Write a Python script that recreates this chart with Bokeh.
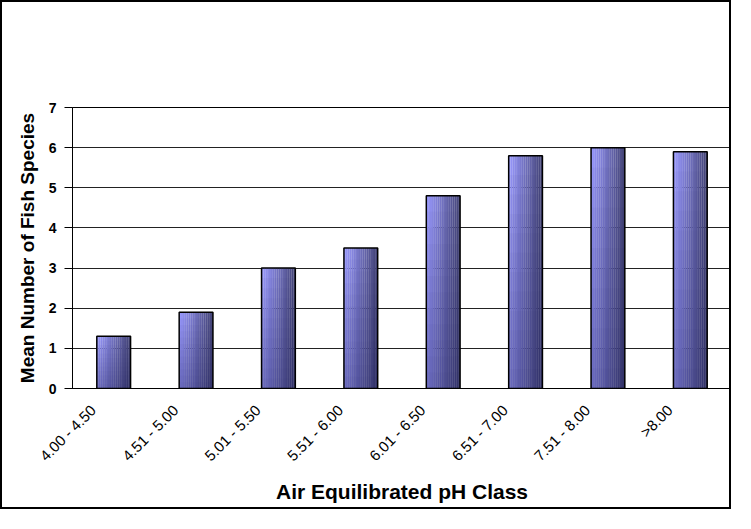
from bokeh.plotting import figure
from bokeh.models import ColumnDataSource, FixedTicker, Range1d
from bokeh.transform import dodge
from bokeh.embed import file_html
from bokeh.resources import INLINE
import math

categories = ["4.00 - 4.50", "4.51 - 5.00", "5.01 - 5.50", "5.51 - 6.00",
              "6.01 - 6.50", "6.51 - 7.00", "7.51 - 8.00", ">8.00"]
values = [1.3, 1.9, 3.0, 3.5, 4.8, 5.8, 6.0, 5.9]
y_ticks = [0, 1, 2, 3, 4, 5, 6, 7]

FONT = "Liberation Sans"
BAR_W = 0.41
LABEL_SHIFT = 0.25  # category labels sit a little left of the bar centres, as in the original

n = len(categories)
xpos = [i + 0.5 for i in range(n)]  # slot centres of the categories

p = figure(x_range=Range1d(0, n), y_range=Range1d(0, 7),
           width=731, height=509, output_backend="svg", toolbar_location=None,
           min_border_left=70, min_border_right=2, min_border_top=105, min_border_bottom=123)
p.styles = {"border": "2px solid black"}

src = ColumnDataSource(dict(x=xpos, cat=categories, val=values))

# horizontal gradient stripes
N = 18
sw = BAR_W / N
c0 = (155, 155, 255)
c1 = (70, 70, 122)
for i in range(N):
    t = i / (N - 1)
    t2 = t ** 1.1
    r = int(c0[0] + (c1[0] - c0[0]) * t2)
    g = int(c0[1] + (c1[1] - c0[1]) * t2)
    b = int(c0[2] + (c1[2] - c0[2]) * t2)
    col = "#%02x%02x%02x" % (r, g, b)
    off = -BAR_W / 2 + (i + 0.5) * sw
    p.vbar(x=dodge("x", off), top="val", bottom=0, width=sw * 1.05,
           source=src, fill_color=col, line_color=None)

# vertical darkening toward the bottom
K = 12
for k in range(1, K + 1):
    frac = k / K
    s = ColumnDataSource(dict(x=xpos, val=[v * frac for v in values]))
    p.vbar(x="x", top="val", bottom=0, width=BAR_W, source=s,
           fill_color="#20204a", fill_alpha=0.035, line_color=None)

# outline
p.vbar(x="x", top="val", bottom=0, width=BAR_W, source=src,
       fill_alpha=0, line_color="black", line_width=1.5)

p.xgrid.grid_line_color = None
p.ygrid.grid_line_color = "#222222"
p.ygrid.grid_line_width = 1
p.yaxis.ticker = FixedTicker(ticks=y_ticks)
p.yaxis.minor_tick_line_color = None
p.yaxis.major_tick_out = 8
p.yaxis.major_tick_in = 0
p.yaxis.major_tick_line_color = "black"
p.yaxis.axis_line_color = "black"
p.yaxis.major_label_text_font = FONT
p.yaxis.major_label_text_font_style = "bold"
p.yaxis.major_label_text_font_size = "14px"
p.yaxis.major_label_text_color = "black"
p.yaxis.major_label_standoff = 8
p.yaxis.axis_label = "Mean Number of Fish Species"
p.yaxis.axis_label_text_font = FONT
p.yaxis.axis_label_text_font_style = "bold"
p.yaxis.axis_label_text_font_size = "19px"
p.yaxis.axis_label_text_color = "black"
p.yaxis.axis_label_standoff = 8

label_pos = [x - LABEL_SHIFT for x in xpos]
p.xaxis.ticker = FixedTicker(ticks=label_pos)
p.xaxis.major_label_overrides = {t: c for t, c in zip(label_pos, categories)}
p.xaxis.major_tick_line_color = None
p.xaxis.minor_tick_line_color = None
p.xaxis.axis_line_color = "black"
p.xaxis.major_label_orientation = math.pi / 4
p.xaxis.major_label_text_font = FONT
p.xaxis.major_label_text_font_size = "15px"
p.xaxis.major_label_text_color = "black"
p.xaxis.major_label_standoff = 13
p.xaxis.axis_label = "Air Equilibrated pH Class"
p.xaxis.axis_label_text_font = FONT
p.xaxis.axis_label_text_font_style = "bold"
p.xaxis.axis_label_text_font_size = "21px"
p.xaxis.axis_label_text_color = "black"
p.xaxis.axis_label_standoff = 7

p.outline_line_color = "black"
p.outline_line_width = 1

open("out.html", "w").write(file_html(p, INLINE))
